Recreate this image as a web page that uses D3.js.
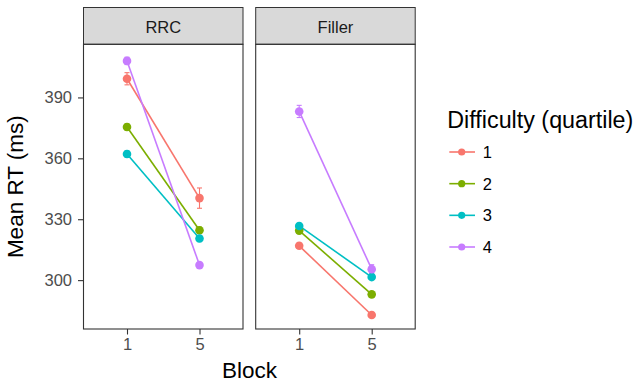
<!DOCTYPE html>
<html>
<head>
<meta charset="utf-8">
<script src="https://cdn.jsdelivr.net/npm/d3@7"></script>
<style>
  body { margin: 0; background: #fff; }
  text { font-family: "Liberation Sans", Arial, sans-serif; }
</style>
</head>
<body>
<svg id="chart" width="642" height="383"></svg>
<script>
// data
const panels = ["RRC", "Filler"]
const blocks = ["1", "5"]
const quartiles = ["1", "2", "3", "4"]
const rrcBlock1 = [399.2, 375.4, 362.1, 408.0]
const rrcBlock5 = [340.4, 324.6, 320.5, 307.4]
const rrcSe1 = [3.0, 1.5, 1.5, 1.8]
const rrcSe5 = [5.0, 1.5, 1.5, 1.2]
const fillerBlock1 = [316.9, 324.4, 326.7, 383.1]
const fillerBlock5 = [282.8, 293.0, 301.5, 305.4]
const fillerSe1 = [1.2, 1.2, 1.2, 3.0]
const fillerSe5 = [0.5, 1.0, 1.2, 2.2]
const yTicks = [300, 330, 360, 390]
const colors = ["#F8766D", "#7CAE00", "#00BFC4", "#C77CFF"]

const rows = []
quartiles.forEach((q, i) => {
  rows.push({panel: "RRC", q, block: "1", mean: rrcBlock1[i], se: rrcSe1[i]})
  rows.push({panel: "RRC", q, block: "5", mean: rrcBlock5[i], se: rrcSe5[i]})
  rows.push({panel: "Filler", q, block: "1", mean: fillerBlock1[i], se: fillerSe1[i]})
  rows.push({panel: "Filler", q, block: "5", mean: fillerBlock5[i], se: fillerSe5[i]})
})

const svg = d3.select("#chart")
const panelW = 159.5, panelTop = 44.3, panelBottom = 329, stripTop = 7.5
const panelX = d3.scaleOrdinal().domain(panels).range([83.5, 255.7])

const lo = d3.min(rows, d => d.mean - d.se), hi = d3.max(rows, d => d.mean + d.se)
const pad = (hi - lo) * 0.05
const y = d3.scaleLinear().domain([lo - pad, hi + pad]).range([panelBottom, panelTop])
const x = d3.scalePoint().domain(blocks).range([0, panelW]).padding(0.6)
const color = d3.scaleOrdinal().domain(quartiles).range(colors)
const line = d3.line().x(d => x(d.block)).y(d => y(d.mean))

panels.forEach(p => {
  const g = svg.append("g").attr("transform", `translate(${panelX(p)},0)`)
  const data = rows.filter(d => d.panel === p)

  // strip
  g.append("rect").attr("x", 0).attr("y", stripTop).attr("width", panelW).attr("height", panelTop - stripTop)
    .attr("fill", "#D9D9D9").attr("stroke", "#333333").attr("stroke-width", 1)
  g.append("text").attr("x", panelW / 2).attr("y", 33.3).attr("text-anchor", "middle")
    .attr("font-size", 16.5).attr("fill", "#1A1A1A").text(p)

  // x axis
  const xa = g.append("g").attr("transform", `translate(0,${panelBottom})`)
    .call(d3.axisBottom(x).tickSize(5.5).tickPadding(4))
  xa.select(".domain").remove()
  xa.selectAll(".tick line").attr("stroke", "#333333").attr("stroke-width", 1.1)
  xa.selectAll(".tick text").attr("font-size", 16.5).attr("fill", "#4D4D4D")
    .attr("font-family", "Liberation Sans, Arial, sans-serif")

  if (p === "RRC") {
    const ya = g.append("g").call(d3.axisLeft(y).tickValues(yTicks).tickSize(5.5).tickPadding(6))
    ya.select(".domain").remove()
    ya.selectAll(".tick line").attr("stroke", "#333333").attr("stroke-width", 1.1)
    ya.selectAll(".tick text").attr("font-size", 16.5).attr("fill", "#4D4D4D")
      .attr("font-family", "Liberation Sans, Arial, sans-serif")
  }

  // error bars
  const eb = g.append("g").selectAll("g").data(data).join("g").attr("stroke", d => color(d.q)).attr("stroke-width", 1.1)
  eb.append("line").attr("x1", d => x(d.block)).attr("x2", d => x(d.block))
    .attr("y1", d => y(d.mean - d.se)).attr("y2", d => y(d.mean + d.se))
  eb.append("line").attr("x1", d => x(d.block) - 2.5).attr("x2", d => x(d.block) + 2.5)
    .attr("y1", d => y(d.mean - d.se)).attr("y2", d => y(d.mean - d.se))
  eb.append("line").attr("x1", d => x(d.block) - 2.5).attr("x2", d => x(d.block) + 2.5)
    .attr("y1", d => y(d.mean + d.se)).attr("y2", d => y(d.mean + d.se))

  // lines and points
  quartiles.forEach(q => {
    const s = data.filter(d => d.q === q)
    g.append("path").datum(s).attr("d", line).attr("fill", "none")
      .attr("stroke", color(q)).attr("stroke-width", 1.6)
  })
  g.append("g").selectAll("circle").data(data).join("circle")
    .attr("cx", d => x(d.block)).attr("cy", d => y(d.mean)).attr("r", 4.3)
    .attr("fill", d => color(d.q))

  // panel border
  g.append("rect").attr("x", 0).attr("y", panelTop).attr("width", panelW).attr("height", panelBottom - panelTop)
    .attr("fill", "none").attr("stroke", "#333333").attr("stroke-width", 1.1)
})

// axis titles
svg.append("text").attr("x", 249.5).attr("y", 378).attr("text-anchor", "middle")
  .attr("font-size", 22.5).text("Block")
svg.append("text").attr("transform", `translate(23,${(panelTop + panelBottom) / 2}) rotate(-90)`)
  .attr("text-anchor", "middle").attr("font-size", 22.5).text("Mean RT (ms)")

// legend
const legend = svg.append("g").attr("transform", "translate(447.3,0)")
legend.append("text").attr("x", 0).attr("y", 127.7).attr("font-size", 23.3).text("Difficulty (quartile)")
const ly = d3.scalePoint().domain(quartiles).range([152, 247])
const items = legend.selectAll("g.item").data(quartiles).join("g").attr("class", "item")
  .attr("transform", d => `translate(0,${ly(d)})`)
items.append("line").attr("x1", 2).attr("x2", 27.7).attr("stroke", d => color(d)).attr("stroke-width", 1.6)
items.append("circle").attr("cx", 14.4).attr("r", 3.6).attr("fill", d => color(d))
items.append("text").attr("x", 35.4).attr("dy", "0.36em").attr("font-size", 16.5).text(d => d)
</script>
</body>
</html>
